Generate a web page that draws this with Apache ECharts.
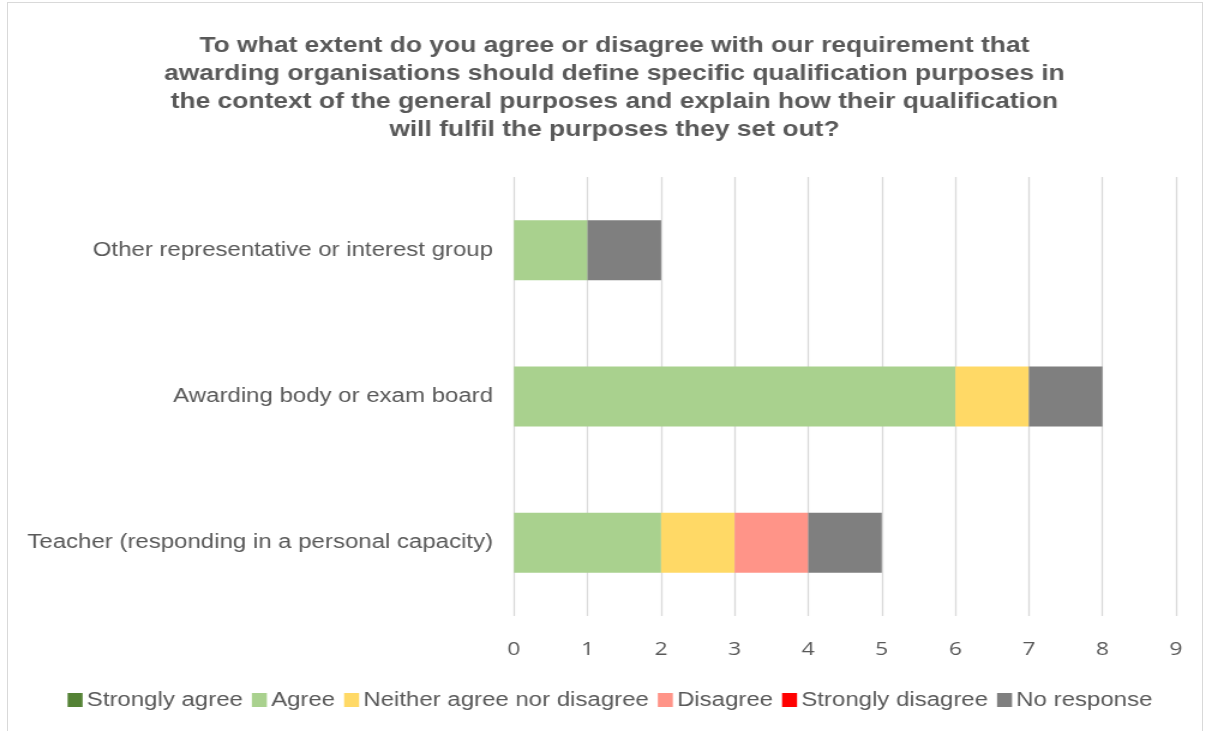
<!DOCTYPE html>
<html>
<head>
<meta charset="utf-8">
<script src="https://cdn.jsdelivr.net/npm/echarts@6/dist/echarts.min.js"></script>
<style>
  html, body { margin: 0; padding: 0; background: #fff; overflow: hidden; }
  #frame { position: absolute; left: 7px; top: 2px; width: 1196px; height: 760px; border: 1px solid #d9d9d9; box-sizing: border-box; }
  /* the chart is laid out on a narrower canvas and widened, giving the broad lettering of the original export */
  #chart { position: absolute; left: 0; top: 0; width: 1004px; height: 731px; transform: scaleX(1.2); transform-origin: 0 0; }
</style>
</head>
<body>
<div id="frame"></div>
<div id="chart"></div>
<script>
// Respondent groups (bottom to top on the category axis)
const categories = [
  'Teacher (responding in a personal capacity)',
  'Awarding body or exam board',
  'Other representative or interest group'
];
const seriesNames = ['Strongly agree', 'Agree', 'Neither agree nor disagree', 'Disagree', 'Strongly disagree', 'No response'];
const stronglyAgree    = [0, 0, 0];
const agree            = [2, 6, 1];
const neither          = [1, 1, 0];
const disagree         = [1, 0, 0];
const stronglyDisagree = [0, 0, 0];
const noResponse       = [1, 1, 1];
const xTicks = [0, 1, 2, 3, 4, 5, 6, 7, 8, 9];

const values = [stronglyAgree, agree, neither, disagree, stronglyDisagree, noResponse];
const colors = ['#548235', '#A9D18E', '#FFD966', '#FF9488', '#FF0000', '#7F7F7F'];

const chart = echarts.init(document.getElementById('chart'));
chart.setOption({
  animation: false,
  title: {
    text: 'To what extent do you agree or disagree with our requirement that\nawarding organisations should define specific qualification purposes in\nthe context of the general purposes and explain how their qualification\nwill fulfil the purposes they set out?',
    left: 507,
    top: 27,
    textAlign: 'center',
    textStyle: { fontFamily: 'Liberation Sans', fontWeight: 'bold', fontSize: 22, color: '#595959', lineHeight: 28 }
  },
  legend: {
    bottom: 16,
    left: 51.3,
    itemWidth: 12.5,
    itemHeight: 14,
    itemGap: 7.5,
    icon: 'rect',
    data: seriesNames,
    textStyle: { fontFamily: 'Liberation Sans', fontSize: 20, color: '#595959', padding: [0, 0, 0, -1.5] }
  },
  grid: { left: 428.3, right: 24, top: 177, bottom: 115 },
  xAxis: {
    type: 'value',
    min: xTicks[0],
    max: xTicks[xTicks.length - 1],
    interval: 1,
    axisLine: { show: false },
    axisTick: { show: false },
    splitLine: { lineStyle: { color: '#d9d9d9', width: 1.25 } },
    axisLabel: { fontFamily: 'Open Sans', fontSize: 19, color: '#595959', margin: 24 }
  },
  yAxis: {
    type: 'category',
    data: categories,
    axisLine: { show: false },
    axisTick: { show: false },
    axisLabel: { fontFamily: 'Liberation Sans', fontSize: 20, color: '#595959', margin: 17.5 }
  },
  series: seriesNames.map((name, i) => ({
    name,
    type: 'bar',
    stack: 'total',
    barWidth: 60,
    data: values[i],
    itemStyle: { color: colors[i] }
  }))
});
</script>
</body>
</html>
